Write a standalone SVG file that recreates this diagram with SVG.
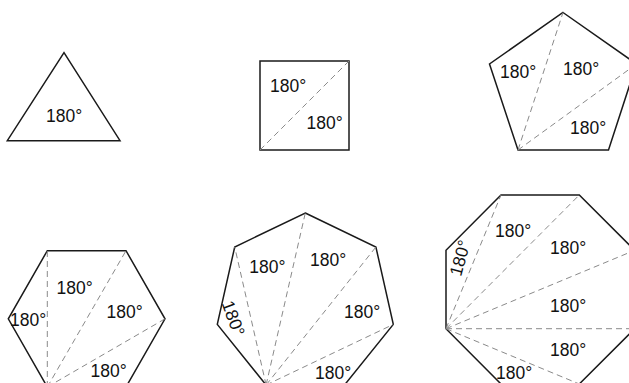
<svg xmlns="http://www.w3.org/2000/svg" width="629" height="383" viewBox="0 0 629 383">
<style>
.shape{fill:none;stroke:#1a1a1a;stroke-width:1.5;stroke-linejoin:miter}
.diag{fill:none;stroke:#8a8a8a;stroke-width:1;stroke-dasharray:6 4}
.lbl{font-family:"Liberation Sans",Arial,sans-serif;font-size:17.5px;fill:#111111}
</style>
<rect width="629" height="383" fill="#ffffff"/>
<g id="triangle">
<polygon class="shape" points="64,52.7 120,140.7 7.3,140.7"/>
<text class="lbl" x="46" y="121.5">180°</text>
</g>
<g id="square">
<rect class="shape" x="260" y="61" width="89" height="89"/>
<text class="lbl" x="270" y="91.5">180°</text>
<text class="lbl" x="306.5" y="129">180°</text>
</g>
<g id="pentagon">
<polygon class="shape" points="563,12.5 636.5,64 608.5,150 518,150 489.5,64"/>
<text class="lbl" x="500" y="77.5">180°</text>
<text class="lbl" x="563" y="75">180°</text>
<text class="lbl" x="570" y="133.5">180°</text>
</g>
<g id="hexagon">
<polygon class="shape" points="47.3,250.7 126,250.7 165,318.8 126,387 47.3,387 8.3,318.8"/>
<text class="lbl" x="56.5" y="293.5">180°</text>
<text class="lbl" x="106.5" y="317.5">180°</text>
<text class="lbl" x="10" y="326">180°</text>
<text class="lbl" x="90.5" y="376.5">180°</text>
</g>
<g id="heptagon">
<polygon class="shape" points="305.3,213 375.9,247 393.3,324.4 344.5,385 266.1,385 217.3,324.4 234.7,247"/>
<text class="lbl" x="249.3" y="272.7">180°</text>
<text class="lbl" x="310" y="266">180°</text>
<text class="lbl" x="344" y="318.3">180°</text>
<text class="lbl" x="315" y="379.3">180°</text>
<text class="lbl" transform="translate(233.3,318.3) rotate(70)" x="0" y="6" text-anchor="middle">180°</text>
</g>
<g id="octagon">
<polygon class="shape" points="501,195 579.3,195 634.7,250.3 634.7,328.7 579.3,384 501,384 446,328.7 446,250.3"/>
<text class="lbl" x="495" y="236.7">180°</text>
<text class="lbl" x="550" y="254">180°</text>
<text class="lbl" x="550" y="311.7">180°</text>
<text class="lbl" x="550" y="356">180°</text>
<text class="lbl" x="496" y="379.3">180°</text>
<text class="lbl" transform="translate(460,258) rotate(-75)" x="0" y="6" text-anchor="middle">180°</text>
</g>
<g id="connectors">
<line class="diag" x1="260" y1="150" x2="349" y2="61"/>
<line class="diag" x1="518" y1="150" x2="563" y2="12.5"/>
<line class="diag" x1="518" y1="150" x2="636.5" y2="64"/>
<line class="diag" x1="47.3" y1="387" x2="47.3" y2="250.7"/>
<line class="diag" x1="47.3" y1="387" x2="126" y2="250.7"/>
<line class="diag" x1="47.3" y1="387" x2="165" y2="318.8"/>
<line class="diag" x1="266.1" y1="385" x2="234.7" y2="247"/>
<line class="diag" x1="266.1" y1="385" x2="305.3" y2="213"/>
<line class="diag" x1="266.1" y1="385" x2="375.9" y2="247"/>
<line class="diag" x1="266.1" y1="385" x2="393.3" y2="324.4"/>
<line class="diag" x1="446" y1="328.7" x2="501" y2="195"/>
<line class="diag" x1="446" y1="328.7" x2="579.3" y2="195"/>
<line class="diag" x1="446" y1="328.7" x2="634.7" y2="250.3"/>
<line class="diag" x1="446" y1="328.7" x2="634.7" y2="328.7"/>
<line class="diag" x1="446" y1="328.7" x2="579.3" y2="384"/>
</g>
</svg>
